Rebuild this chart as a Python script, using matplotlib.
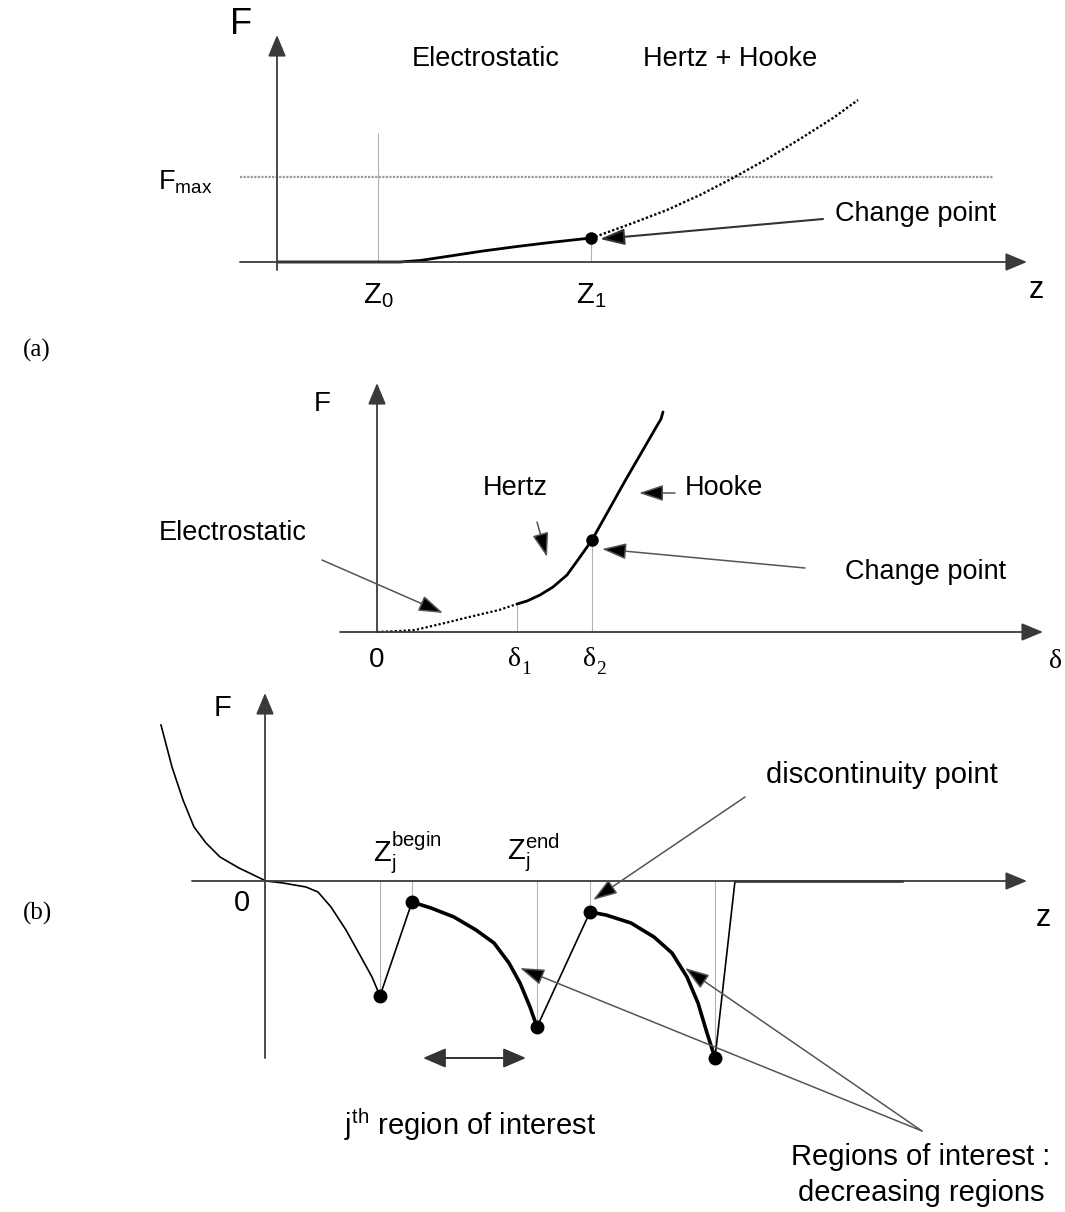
import matplotlib
matplotlib.use("Agg")
import matplotlib.pyplot as plt
import numpy as np

plt.rcParams['font.family'] = ['Liberation Sans', 'DejaVu Sans']
plt.rcParams['mathtext.fontset'] = 'custom'
plt.rcParams['mathtext.rm'] = 'Liberation Sans'
plt.rcParams['mathtext.it'] = 'Liberation Sans:italic'
plt.rcParams['mathtext.bf'] = 'Liberation Sans:bold'

W, H = 1065, 1212

# ---------------- data (panel units, origin at axis crossing) ----------------
# Panel (a) top: F vs z
a_solid_z = [0, 123, 143, 173, 206, 240, 273, 314]
a_solid_F = [0, 0, 1.5, 6, 11, 15.5, 19.5, 24]
a_dot_z = [314, 323, 356, 390, 423, 456, 490, 523, 556, 581]
a_dot_F = [24, 27, 39, 52, 67, 84, 103, 123, 144, 162]
a_Fmax = 85
a_Z0, a_Z1 = 101, 314
a_change = (314, 24)

# Panel (a) middle: F vs delta
m_dot_d = [0, 22, 38, 55, 72, 88, 105, 122, 140]
m_dot_F = [0, 1, 2, 6, 10, 14, 18, 22, 28]
m_sol_d = [140, 150, 163, 176, 190, 203, 215, 248, 281, 284, 286]
m_sol_F = [28, 31, 37, 45, 57, 75, 92, 151, 208, 213, 220]
m_d1, m_d2 = 140, 215
m_change = (215, 92)

# Panel (b): F vs z
b_thin_z = [-104, -93, -82, -71, -59, -45, -26, 1, 18, 41, 53, 66, 81, 96, 107, 115]
b_thin_F = [156, 114, 81, 54, 38, 24, 13, 0, -2, -6, -11, -26, -49, -76, -96, -115]
b_reg1_z = [147, 166, 189, 211, 229, 244, 255, 265, 272]
b_reg1_F = [-21, -27, -36, -49, -62, -82, -102, -126, -146]
b_reg2_z = [325, 341, 366, 389, 407, 422, 433, 442, 450]
b_reg2_F = [-31, -34, -42, -56, -72, -96, -122, -152, -177]
b_tail_z = [450, 470, 637]
b_tail_F = [-177, 0, 0]
b_pts_z = [115, 147, 272, 325, 450]
b_pts_F = [-115, -21, -146, -31, -177]

fig = plt.figure(figsize=(W / 100, H / 100), dpi=100)


def panel_axes(ox, oy):
    ax = fig.add_axes([0, 0, 1, 1])
    ax.set_xlim(-ox, W - ox)
    ax.set_ylim(-(H - oy), oy)
    ax.axis('off')
    ax.patch.set_alpha(0)
    return ax


AX_C = '#3a3a3a'
GR_C = '#555555'


def axis_arrow(ax, x0, y0, x1, y1, lw=1.3, color=AX_C, ms=22):
    ax.annotate('', xy=(x1, y1), xytext=(x0, y0),
                arrowprops=dict(arrowstyle='-|>,head_length=0.6,head_width=0.25',
                                color=color, lw=lw, mutation_scale=ms,
                                shrinkA=0, shrinkB=0))


def pointer(ax, x0, y0, x1, y1, lw=1.1, color=GR_C, ms=20):
    ax.annotate('', xy=(x1, y1), xytext=(x0, y0),
                arrowprops=dict(arrowstyle='-|>,head_length=0.75,head_width=0.25',
                                color=color, lw=lw, mutation_scale=ms,
                                shrinkA=0, shrinkB=0, fc='black', ec=color))


# ---------------- panel (a) top ----------------
ax = panel_axes(277, 262)
axis_arrow(ax, -37, 0, 750, 0)
axis_arrow(ax, 0, -8, 0, 227)
ax.plot([-37, 716], [a_Fmax, a_Fmax], color='#999999', lw=1.6, ls=(0, (1, 0.6)))
ax.plot([a_Z0, a_Z0], [0, 129], color='#777777', lw=0.8, ls=(0, (1, 0.8)))
ax.plot([a_Z1, a_Z1], [0, a_change[1]], color='#777777', lw=0.8, ls=(0, (1, 0.8)))
ax.plot(a_solid_z, a_solid_F, color='black', lw=2.0, solid_capstyle='round',
        solid_joinstyle='round')
ax.plot(a_dot_z, a_dot_F, color='black', lw=1.7, ls=(0, (1, 0.9)))
ax.plot([a_change[0]], [a_change[1]], 'o', color='black', ms=8)
pointer(ax, 546, 43, 323, 23, lw=1.5, color='#333333')
ax.text(558, 48, 'Change point', fontsize=19.5, ha='left', va='center')
ax.text(209, 203, 'Electrostatic', fontsize=19.5, ha='center', va='center')
ax.text(453, 203, 'Hertz + Hooke', fontsize=19.5, ha='center', va='center')
ax.text(-36, 238, 'F', fontsize=26, ha='center', va='center')
ax.text(-119, 80, r'F$_{\mathrm{max}}$', fontsize=19.5, ha='left', va='center')
ax.text(a_Z0, -34, r'Z$_{\mathrm{0}}$', fontsize=21, ha='center', va='center')
ax.text(a_Z1, -34, r'Z$_{\mathrm{1}}$', fontsize=21, ha='center', va='center')
ax.text(759, -28, 'z', fontsize=22, ha='center', va='center')
ax.text(-240, -88, '(a)', fontsize=18, ha='center', va='center',
        family='Liberation Serif')

# ---------------- panel (a) middle ----------------
ax = panel_axes(377, 632)
axis_arrow(ax, -37, 0, 666, 0)
axis_arrow(ax, 0, 0, 0, 249)
ax.plot([m_d1, m_d1], [0, m_dot_F[-1]], color='#777777', lw=0.8, ls=(0, (1, 0.8)))
ax.plot([m_d2, m_d2], [0, m_change[1]], color='#777777', lw=0.8, ls=(0, (1, 0.8)))
ax.plot(m_dot_d, m_dot_F, color='black', lw=1.6, ls=(0, (1, 1)))
ax.plot(m_sol_d, m_sol_F, color='black', lw=2.0, solid_capstyle='round',
        solid_joinstyle='round')
ax.plot([m_change[0]], [m_change[1]], 'o', color='black', ms=8)
ax.text(-55, 228, 'F', fontsize=20, ha='center', va='center')
ax.text(0, -28, '0', fontsize=20, ha='center', va='center')
for xd, sub in [(m_d1, '1'), (m_d2, '2')]:
    ax.text(xd + 4, -28, 'δ', fontsize=20, ha='right', va='center',
            family='Liberation Serif')
    ax.text(xd + 4, -37, sub, fontsize=14, ha='left', va='center',
            family='Liberation Serif')
ax.text(678, -30, 'δ', fontsize=20, ha='center', va='center',
        family='Liberation Serif')
ax.text(138, 144, 'Hertz', fontsize=19.5, ha='center', va='center')
pointer(ax, 160, 110, 170, 75)
ax.text(308, 144, 'Hooke', fontsize=19.5, ha='left', va='center')
pointer(ax, 298, 139, 262, 139)
ax.text(-144, 99, 'Electrostatic', fontsize=19.5, ha='center', va='center')
pointer(ax, -55, 72, 66, 19)
ax.text(549, 60, 'Change point', fontsize=19.5, ha='center', va='center')
pointer(ax, 428, 64, 225, 83)

# ---------------- panel (b) ----------------
ax = panel_axes(265, 881)
axis_arrow(ax, -73, 0, 762, 0)
axis_arrow(ax, 0, -177, 0, 188)
for zx, fy in zip(b_pts_z, b_pts_F):
    ax.plot([zx, zx], [0, fy], color='#777777', lw=0.8, ls=(0, (1, 0.8)))
ax.plot(b_thin_z, b_thin_F, color='black', lw=1.2, solid_joinstyle='round')
ax.plot([b_thin_z[-1], b_reg1_z[0]], [b_thin_F[-1], b_reg1_F[0]], color='black', lw=1.2)
ax.plot([b_reg1_z[-1], b_reg2_z[0]], [b_reg1_F[-1], b_reg2_F[0]], color='black', lw=1.2)
ax.plot(b_reg1_z, b_reg1_F, color='black', lw=2.6, solid_capstyle='round',
        solid_joinstyle='round')
ax.plot(b_reg2_z, b_reg2_F, color='black', lw=2.6, solid_capstyle='round',
        solid_joinstyle='round')
ax.plot(b_tail_z[:2], b_tail_F[:2], color='black', lw=1.2)
ax.plot(b_tail_z[1:], b_tail_F[1:], color='#222222', lw=1.8)
ax.plot(b_pts_z, b_pts_F, 'o', color='black', ms=9, ls='none')
ax.text(-42, 173, 'F', fontsize=21, ha='center', va='center')
ax.text(-23, -22, '0', fontsize=21, ha='center', va='center')
ax.text(778, -37, 'z', fontsize=22, ha='center', va='center')
ax.text(108, 28, r'Z$_{\mathrm{j}}^{\mathrm{begin}}$', fontsize=21, ha='left', va='center')
ax.text(242, 28, r'Z$_{\mathrm{j}}^{\mathrm{end}}$', fontsize=21, ha='left', va='center')
ax.text(617, 106, 'discontinuity point', fontsize=21, ha='center', va='center')
pointer(ax, 480, 84, 328, -19)
ax.text(205, -244, r'j$^{\mathrm{th}}$ region of interest', fontsize=21,
        ha='center', va='center')
ax.annotate('', xy=(158, -177), xytext=(261, -177),
            arrowprops=dict(arrowstyle='<|-|>,head_length=0.7,head_width=0.3',
                            color='#333333', lw=1.4, mutation_scale=20,
                            shrinkA=0, shrinkB=0))
pointer(ax, 657, -250, 255, -87)
pointer(ax, 657, -250, 420, -87)
ax.text(656, -276, 'Regions of interest :', fontsize=21, ha='center', va='center')
ax.text(656, -312, 'decreasing regions', fontsize=21, ha='center', va='center')
ax.text(-228, -32, '(b)', fontsize=18, ha='center', va='center',
        family='Liberation Serif')

fig.savefig('out.png', dpi=100)
